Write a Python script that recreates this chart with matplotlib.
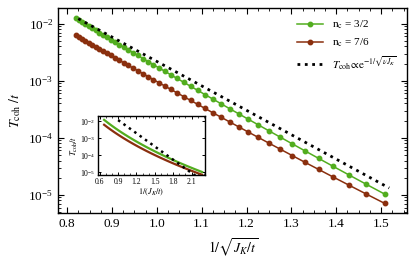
import numpy as np
import matplotlib
matplotlib.use("Agg")
import matplotlib.pyplot as plt
from matplotlib.ticker import MultipleLocator, FormatStrFormatter, LogLocator

# x = 1/sqrt(J_K/t)
x_vals = [0.8192, 0.8262, 0.8333, 0.8407, 0.8482, 0.8559, 0.8639, 0.8720, 0.8805, 0.8891,
          0.8980, 0.9072, 0.9167, 0.9265, 0.9366, 0.9470, 0.9578, 0.9690, 0.9806, 0.9926,
          1.0050, 1.0180, 1.0314, 1.0454, 1.0600, 1.0752, 1.0911, 1.1077, 1.1251, 1.1433,
          1.1625, 1.1826, 1.2039, 1.2263, 1.2500, 1.2752, 1.3019, 1.3304, 1.3608, 1.3935,
          1.4286, 1.4665, 1.5076]

# n_c = 3/2
t_green = [1.24e-2, 1.151e-2, 1.065e-2, 9.83e-3, 9.06e-3, 8.33e-3, 7.63e-3, 6.99e-3, 6.38e-3, 5.81e-3,
           5.28e-3, 4.78e-3, 4.32e-3, 3.88e-3, 3.49e-3, 3.12e-3, 2.78e-3, 2.46e-3, 2.18e-3, 1.92e-3,
           1.68e-3, 1.47e-3, 1.272e-3, 1.098e-3, 9.42e-4, 8.03e-4, 6.80e-4, 5.72e-4, 4.78e-4, 3.96e-4,
           3.24e-4, 2.64e-4, 2.12e-4, 1.688e-4, 1.327e-4, 1.028e-4, 7.85e-5, 5.90e-5, 4.36e-5, 3.15e-5,
           2.23e-5, 1.54e-5, 1.034e-5]

# n_c = 7/6
t_brown = [6.37e-3, 5.92e-3, 5.49e-3, 5.08e-3, 4.69e-3, 4.33e-3, 3.98e-3, 3.66e-3, 3.34e-3, 3.06e-3,
           2.79e-3, 2.53e-3, 2.29e-3, 2.07e-3, 1.865e-3, 1.675e-3, 1.499e-3, 1.336e-3, 1.186e-3, 1.048e-3,
           9.24e-4, 8.09e-4, 7.06e-4, 6.13e-4, 5.29e-4, 4.54e-4, 3.87e-4, 3.27e-4, 2.75e-4, 2.30e-4,
           1.90e-4, 1.558e-4, 1.264e-4, 1.016e-4, 8.07e-5, 6.32e-5, 4.89e-5, 3.72e-5, 2.79e-5, 2.05e-5,
           1.476e-5, 1.038e-5, 7.11e-6]

# dotted guide lines (end points)
guide_x = [0.825, 1.518]
guide_y = [1.23e-2, 1.32e-5]
inset_guide_x = [0.90, 2.27]
inset_guide_y = [1.2e-2, 3.3e-6]

green = "#52ad1f"
brown = "#8a2f0e"

plt.rcParams["font.family"] = "serif"
plt.rcParams["font.serif"] = ["Liberation Serif", "DejaVu Serif"]
plt.rcParams["mathtext.fontset"] = "stix"

fig = plt.figure(figsize=(4.15, 2.63), dpi=100)
ax = fig.add_axes([0.140, 0.190, 0.841, 0.780])

ax.plot(x_vals, t_green, "-o", color=green, lw=1.1, ms=3.2, label=r"n$_{\rm c}$ = 3/2")
ax.plot(x_vals, t_brown, "-o", color=brown, lw=1.1, ms=3.2, label=r"n$_{\rm c}$ = 7/6")
ax.plot(guide_x, guide_y, ":", color="black", lw=2.0,
        label=r"$T_{\rm coh}\!\propto\!{\rm e}^{-1/\sqrt{\nu J_K}}$")

ax.set_yscale("log")
ax.set_xlim(0.78, 1.558)
ax.set_ylim(4.8e-6, 1.9e-2)
ax.xaxis.set_major_locator(MultipleLocator(0.1))
ax.xaxis.set_minor_locator(MultipleLocator(0.025))
ax.xaxis.set_major_formatter(FormatStrFormatter("%.1f"))
ax.yaxis.set_minor_locator(LogLocator(base=10, subs=np.arange(2, 10)))
ax.tick_params(which="both", direction="in", top=True, right=True, labelsize=9.5)
ax.tick_params(which="major", length=4, width=0.8)
ax.tick_params(which="minor", length=2, width=0.6)
for s in ax.spines.values():
    s.set_linewidth(1.0)
ax.set_xlabel(r"$\mathit{1/}\sqrt{J_K/t}$", fontsize=10, labelpad=5)
ax.set_ylabel(r"$T_{\rm coh}\ /t$", fontsize=10, labelpad=4)

ax.legend(loc="upper right", bbox_to_anchor=(1.0, 0.995), frameon=False, fontsize=8,
          handlelength=2.4, labelspacing=0.45, handletextpad=0.8)

# inset: same data vs 1/(J_K/t)
ins = fig.add_axes([0.236, 0.335, 0.258, 0.224])
xi = np.square(x_vals)
ins.plot(xi, t_green, "-", color=green, lw=1.6)
ins.plot(xi, t_brown, "-", color=brown, lw=1.6)
ins.plot(inset_guide_x, inset_guide_y, ":", color="black", lw=1.8)
ins.set_yscale("log")
ins.set_xlim(0.57, 2.32)
ins.set_ylim(7e-6, 2.1e-2)
ins.set_yticks([1e-2, 1e-3, 1e-4, 1e-5])
ins.xaxis.set_major_locator(MultipleLocator(0.3))
ins.xaxis.set_minor_locator(MultipleLocator(0.1))
ins.xaxis.set_major_formatter(FormatStrFormatter("%.1f"))
ins.yaxis.set_minor_locator(LogLocator(base=10, subs=np.arange(2, 10)))
ins.tick_params(which="both", direction="in", top=True, right=True, labelsize=5.5, pad=2)
ins.tick_params(which="major", length=2.5, width=0.7)
ins.tick_params(which="minor", length=1.3, width=0.5)
for s in ins.spines.values():
    s.set_linewidth(1.0)
ins.set_xlabel(r"$\mathit{1/}(J_K/t)$", fontsize=6, labelpad=1)
ins.set_ylabel(r"$T_{\rm coh}/t$", fontsize=6, labelpad=0)

fig.savefig("out.png", dpi=100)
